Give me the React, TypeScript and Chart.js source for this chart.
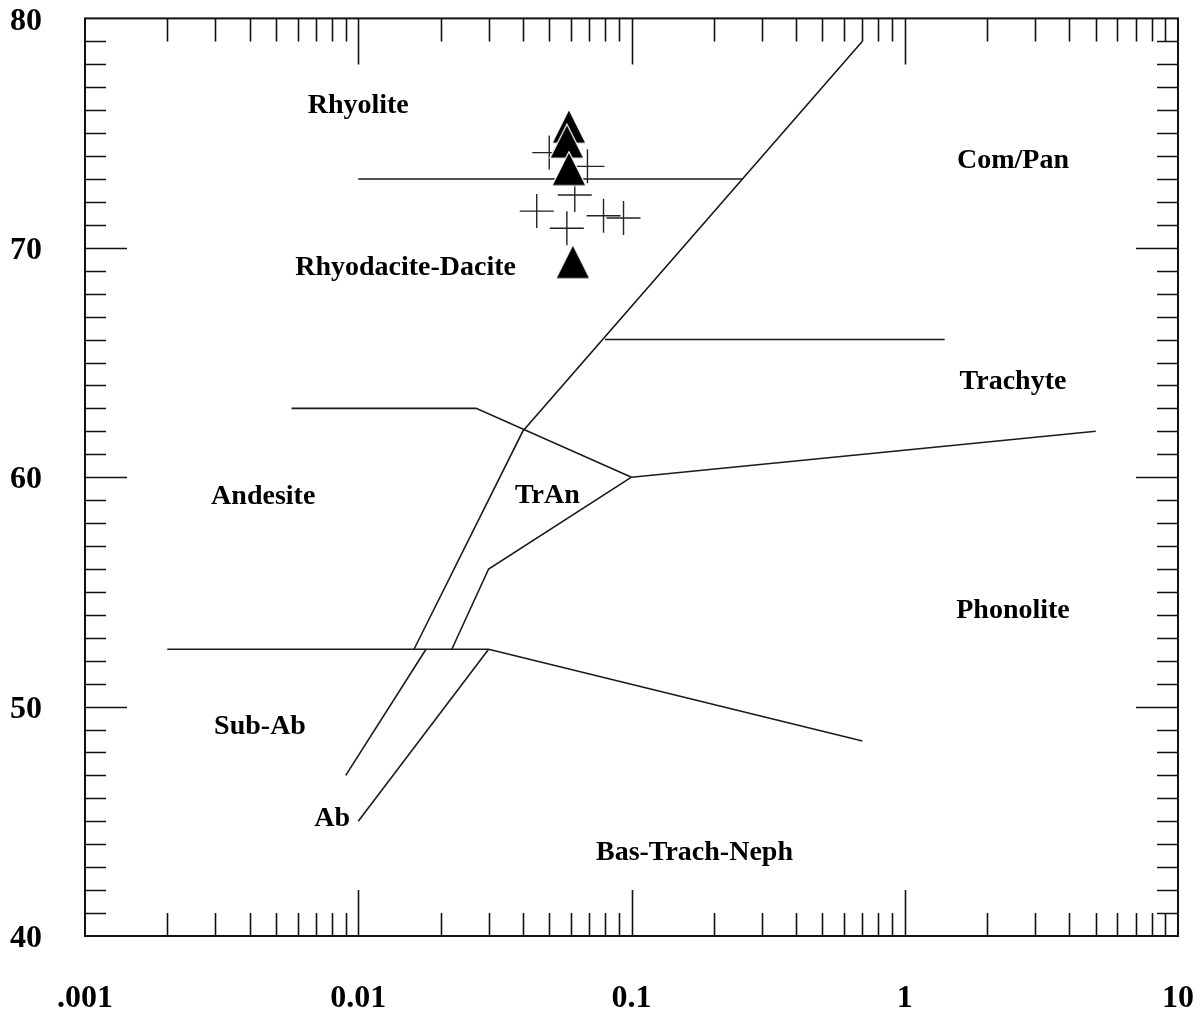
import React, { useEffect, useRef } from 'react';
import { Chart, registerables } from 'chart.js';

Chart.register(...registerables);

// ---- axis / tick data ----
const xDecades = [0.001, 0.01, 0.1, 1, 10];
const xDecadeLabels = ['.001', '0.01', '0.1', '1', '10'];
const xMinorMultipliers = [2, 3, 4, 5, 6, 7, 8, 9];
const yMin = 40;
const yMax = 80;
const yLabelStep = 10;

// ---- sample data ----
const crossX = [0.05, 0.069, 0.062, 0.045, 0.058, 0.079, 0.0935];
const crossY = [74.15, 73.55, 72.3, 71.6, 70.85, 71.4, 71.3];
const triX = [0.059, 0.058, 0.059, 0.061];
const triY = [75.3, 74.65, 73.45, 69.4];

// ---- field boundaries [Zr/TiO2, SiO2] ----
const lineMain = [[0.7, 79], [0.04, 62], [0.016, 52.5]];
const lineRhyolite = [[0.01, 73], [0.255, 73]];
const lineTrachyte = [[0.08, 66], [1.4, 66]];
const lineAndesite = [[0.0057, 63], [0.027, 63], [0.1, 60]];
const linePhonolite = [[0.1, 60], [5, 62]];
const lineTrAn = [[0.1, 60], [0.03, 56], [0.022, 52.5]];
const lineSubAb = [[0.002, 52.5], [0.03, 52.5]];
const lineBasalt = [[0.03, 52.5], [0.7, 48.5]];
const lineAbLeft = [[0.0177, 52.5], [0.009, 47]];
const lineAbRight = [[0.03, 52.5], [0.01, 45]];
const boundaries = [lineMain, lineRhyolite, lineTrachyte, lineAndesite, linePhonolite, lineTrAn, lineSubAb, lineBasalt, lineAbLeft, lineAbRight];

// ---- field names ----
const regionNames = ['Rhyolite', 'Com/Pan', 'Rhyodacite-Dacite', 'Trachyte', 'Andesite', 'TrAn', 'Phonolite', 'Sub-Ab', 'Ab', 'Bas-Trach-Neph'];
const regionX = [0.01, 2.49, 0.0149, 2.49, 0.00449, 0.0492, 2.49, 0.00437, 0.00803, 0.17];
const regionY = [76.2, 73.81, 69.15, 64.18, 59.13, 59.17, 54.16, 49.11, 45.1, 43.62];

const FONT = "'Liberation Serif', 'Times New Roman', serif";

function isDecade(v: number) {
  const l = Math.log10(v);
  return Math.abs(l - Math.round(l)) < 1e-6;
}

const framePlugin = {
  id: 'frameTicks',
  afterDatasetsDraw(chart: any) {
    const { ctx, chartArea } = chart;
    const xs = chart.scales.x;
    const ys = chart.scales.y;
    const { left, right, top, bottom } = chartArea;
    ctx.save();
    ctx.strokeStyle = '#111';
    ctx.lineWidth = 1.6;
    ctx.beginPath();
    xs.ticks.forEach((t: any) => {
      const v = t.value;
      if (v <= xDecades[0] || v >= xDecades[xDecades.length - 1]) return;
      const px = Math.round(xs.getPixelForValue(v)) + 0.5;
      const len = isDecade(v) ? 46 : 23;
      ctx.moveTo(px, bottom);
      ctx.lineTo(px, bottom - len);
      ctx.moveTo(px, top);
      ctx.lineTo(px, top + len);
    });
    ys.ticks.forEach((t: any) => {
      const v = t.value;
      if (v <= yMin || v >= yMax) return;
      const py = Math.round(ys.getPixelForValue(v)) + 0.5;
      const len = v % yLabelStep === 0 ? 42 : 21;
      ctx.moveTo(left, py);
      ctx.lineTo(left + len, py);
      ctx.moveTo(right, py);
      ctx.lineTo(right - len, py);
    });
    ctx.stroke();
    ctx.lineWidth = 2;
    ctx.strokeRect(left, top, right - left, bottom - top);

    ctx.fillStyle = '#000';
    ctx.font = `bold 28px ${FONT}`;
    ctx.textAlign = 'center';
    ctx.textBaseline = 'middle';
    regionNames.forEach((name, i) => {
      ctx.fillText(name, xs.getPixelForValue(regionX[i]), ys.getPixelForValue(regionY[i]));
    });
    ctx.restore();
  },
};

function makeTriangle(): HTMLCanvasElement {
  const c = document.createElement('canvas');
  c.width = 36;
  c.height = 36;
  const g = c.getContext('2d')!;
  g.beginPath();
  g.moveTo(18, 1);
  g.lineTo(35, 35);
  g.lineTo(1, 35);
  g.closePath();
  g.fillStyle = '#000';
  g.fill();
  g.strokeStyle = '#fff';
  g.lineWidth = 1.2;
  g.stroke();
  return c;
}

function zeroPadding(scale: any) {
  scale.paddingTop = 0;
  scale.paddingBottom = 0;
  scale.paddingLeft = 0;
  scale.paddingRight = 0;
}

export default function App() {
  const ref = useRef<HTMLCanvasElement>(null);

  useEffect(() => {
    if (!ref.current) return;
    const tri = makeTriangle();
    const xTickValues: number[] = [];
    xDecades.forEach((d, i) => {
      xTickValues.push(d);
      if (i < xDecades.length - 1) xMinorMultipliers.forEach((m) => xTickValues.push(d * m));
    });

    const datasets: any[] = [
      {
        label: 'triangles',
        data: triX.map((x, i) => ({ x, y: triY[i] })),
        pointStyle: tri,
        pointRadius: 17,
        showLine: false,
      },
      {
        label: 'crosses',
        data: crossX.map((x, i) => ({ x, y: crossY[i] })),
        pointStyle: 'cross',
        pointRadius: 17,
        borderColor: '#222',
        borderWidth: 1.4,
        showLine: false,
      },
      ...boundaries.map((pts, i) => ({
        label: 'b' + i,
        data: pts.map((p) => ({ x: p[0], y: p[1] })),
        showLine: true,
        pointRadius: 0,
        borderColor: '#1a1a1a',
        borderWidth: 1.6,
        fill: false,
      })),
    ];

    const chart = new Chart(ref.current, {
      type: 'scatter',
      data: { datasets },
      options: {
        animation: false,
        responsive: false,
        layout: { padding: { left: 0, top: 18, right: 21, bottom: 0 } },
        plugins: { legend: { display: false }, tooltip: { enabled: false } },
        scales: {
          x: {
            type: 'logarithmic',
            min: xDecades[0],
            max: xDecades[xDecades.length - 1],
            grid: { display: false, drawTicks: false },
            border: { display: false },
            afterBuildTicks: (scale: any) => {
              scale.ticks = xTickValues.map((v) => ({ value: v }));
            },
            afterFit: (scale: any) => {
              scale.height = 77;
              zeroPadding(scale);
            },
            ticks: {
              autoSkip: false,
              maxRotation: 0,
              minRotation: 0,
              padding: 47,
              color: '#000',
              font: { family: FONT, size: 32, weight: 'bold', lineHeight: 1 },
              callback: (value: any) => {
                const idx = xDecades.findIndex((d) => Math.abs(d - Number(value)) / d < 1e-6);
                return idx >= 0 ? xDecadeLabels[idx] : '';
              },
            },
          },
          y: {
            type: 'linear',
            min: yMin,
            max: yMax,
            grid: { display: false, drawTicks: false },
            border: { display: false },
            afterFit: (scale: any) => {
              scale.width = 85;
              zeroPadding(scale);
            },
            ticks: {
              stepSize: 1,
              autoSkip: false,
              padding: 43,
              labelOffset: 3,
              color: '#000',
              font: { family: FONT, size: 32, weight: 'bold', lineHeight: 1 },
              callback: (value: any) => (Number(value) % yLabelStep === 0 ? String(value) : ''),
            },
          },
        },
      },
      plugins: [framePlugin],
    } as any);

    return () => chart.destroy();
  }, []);

  return (
    <div style={{ position: 'fixed', left: 0, top: 0, width: 1199, height: 1013, background: '#fff' }}>
      <canvas ref={ref} width={1199} height={1013} style={{ display: 'block' }} />
    </div>
  );
}
